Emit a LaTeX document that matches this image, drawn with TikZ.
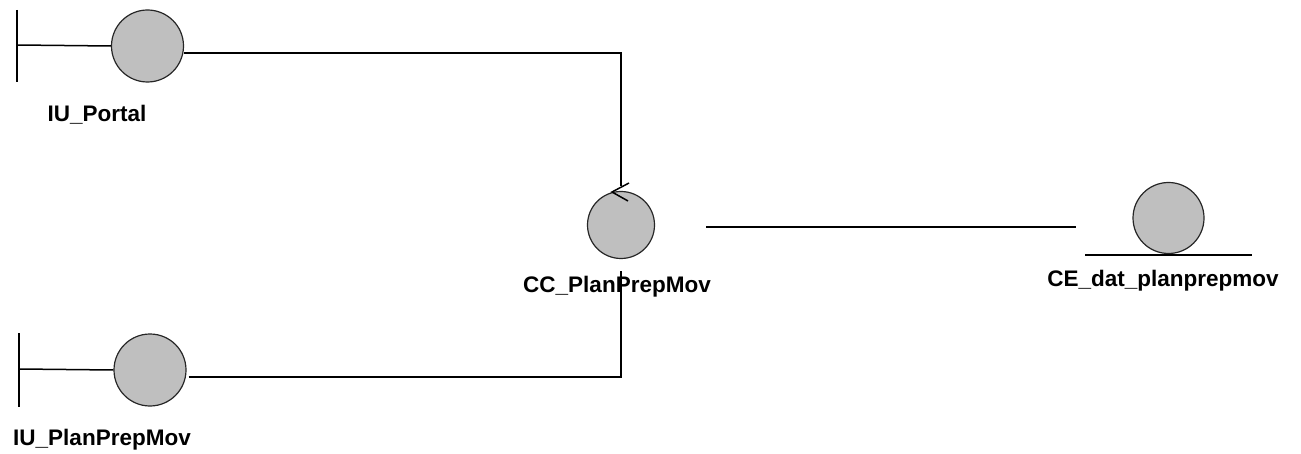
\documentclass[tikz,border=0pt]{standalone}
\usepackage{fontspec}
\setmainfont{Liberation Sans}
\begin{document}
\begin{tikzpicture}[x=1pt,y=-1pt,
  obj/.style={circle,draw=black!85,line width=1.2pt,fill=black!25,inner sep=0pt,minimum size=#1},
  lbl/.style={anchor=base,inner sep=0pt,font=\fontsize{22.5}{27}\selectfont\bfseries},
  conn/.style={line width=1.5pt,black}]
\useasboundingbox (0,0) rectangle (1301,454);
% nodes
\node[obj=72pt] (portal) at (147.5,46) {};
\node[obj=72pt] (plan) at (150,370) {};
\node[obj=67pt] (cc) at (621,225) {};
\node[obj=71pt] (ce) at (1168.5,218) {};
% labels
\node[lbl] (lportal) at (97,122) {IU\_Portal};
\node[lbl] (lplan) at (102,445) {IU\_PlanPrepMov};
\node[lbl] (lcc) at (617,293) {CC\_PlanPrepMov};
\node[lbl] (lce) at (1163,287) {CE\_dat\_planprepmov};
% boundary symbols
\coordinate (bp) at (17,45);
\draw[conn] (portal.west) -- (bp);
\draw[conn] (17,10) -- (17,82);
\coordinate (bq) at (19,369);
\draw[conn] (plan.west) -- (bq);
\draw[conn] (19,333) -- (19,407);
% entity base
\draw[conn] (1085,255) -- (1252,255);
% control arrowhead
\draw[line width=1.5pt] (629,183) -- (612,192) -- (628,201);
% connectors
\draw[conn] ([yshift=-7pt]portal.east) -| ([yshift=5pt]cc.north);
\draw[conn] ([shift={(2pt,-7pt)}]plan.east) -| ([yshift=-12pt]cc.south);
\draw[conn] ([shift={(51pt,-2pt)}]cc.east) -- ([shift={(-56pt,-9pt)}]ce.west);
\end{tikzpicture}
\end{document}
